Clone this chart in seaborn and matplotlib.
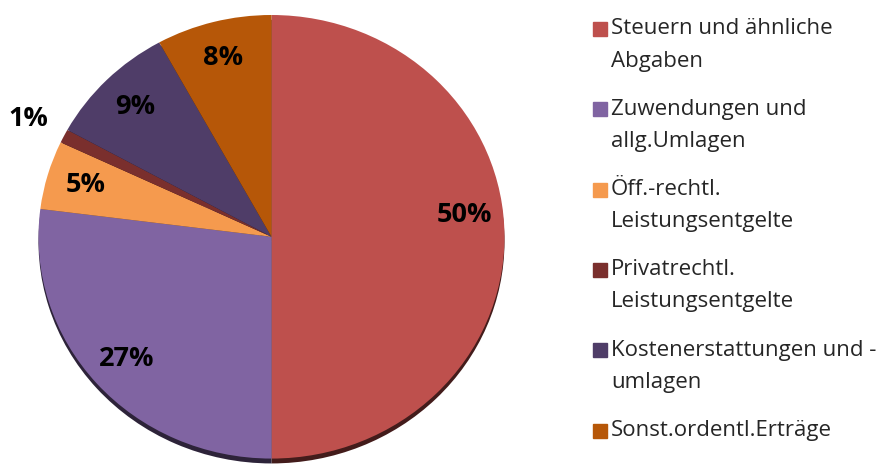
import matplotlib
matplotlib.use("Agg")
import matplotlib.pyplot as plt
import matplotlib.patches as mpatches
import matplotlib.colors as mcolors
import seaborn as sns

# Daten
kategorien = [
    "Steuern und ähnliche\nAbgaben",
    "Zuwendungen und\nallg.Umlagen",
    "Öff.-rechtl.\nLeistungsentgelte",
    "Privatrechtl.\nLeistungsentgelte",
    "Kostenerstattungen und -\numlagen",
    "Sonst.ordentl.Erträge",
]
anteile = [50, 27, 5, 1, 9, 8]
farben = ["#BE504D", "#8064A2", "#F59A4E", "#7A2F2D", "#4F3D68", "#B65708"]

sns.set_style("white")
plt.rcParams["font.family"] = ["Open Sans", "DejaVu Sans"]

fig = plt.figure(figsize=(8.91, 4.68), dpi=100)
# leicht gekippte Torte (Ellipse)
ax = fig.add_axes([38.5 / 891, (468 - 239 - 224) / 468, 466 / 891, 448 / 468])

# dunkler Rand unten (3D-Effekt)
dunkel = [tuple(c * 0.35 for c in mcolors.to_rgb(f)) for f in farben]
ax.pie(anteile, colors=dunkel, startangle=90, counterclock=False,
       center=(0, -0.022), wedgeprops=dict(linewidth=0))

wedges, texts, autotexts = ax.pie(
    anteile,
    colors=farben,
    startangle=90,
    counterclock=False,
    autopct="%1.0f%%",
    pctdistance=0.83,
    textprops=dict(fontsize=19.5, fontweight="bold", color="black"),
    wedgeprops=dict(linewidth=0),
)
# 1% ausserhalb
x, y = autotexts[3].get_position()
autotexts[3].set_position((x * 1.41, y * 1.41))
# 50% etwas hoeher
x, y = autotexts[0].get_position()
autotexts[0].set_position((x, y + 0.1))

ax.set_aspect("auto")
ax.set_xlim(-1, 1)
ax.set_ylim(-1.02, 1)
ax.axis("off")

# Legende
for i, (lab, col) in enumerate(zip(kategorien, farben)):
    y0 = 1 - (29 + i * 80.3) / 468
    fig.patches.append(mpatches.Rectangle((593 / 891, y0 - 7 / 468), 14 / 891, 14 / 468,
                                          transform=fig.transFigure, color=col))
    for j, line in enumerate(lab.split("\n")):
        fig.text(611 / 891, y0 - j * 32 / 468, line, fontsize=16, va="center", ha="left")

plt.savefig("out.png", dpi=100)
